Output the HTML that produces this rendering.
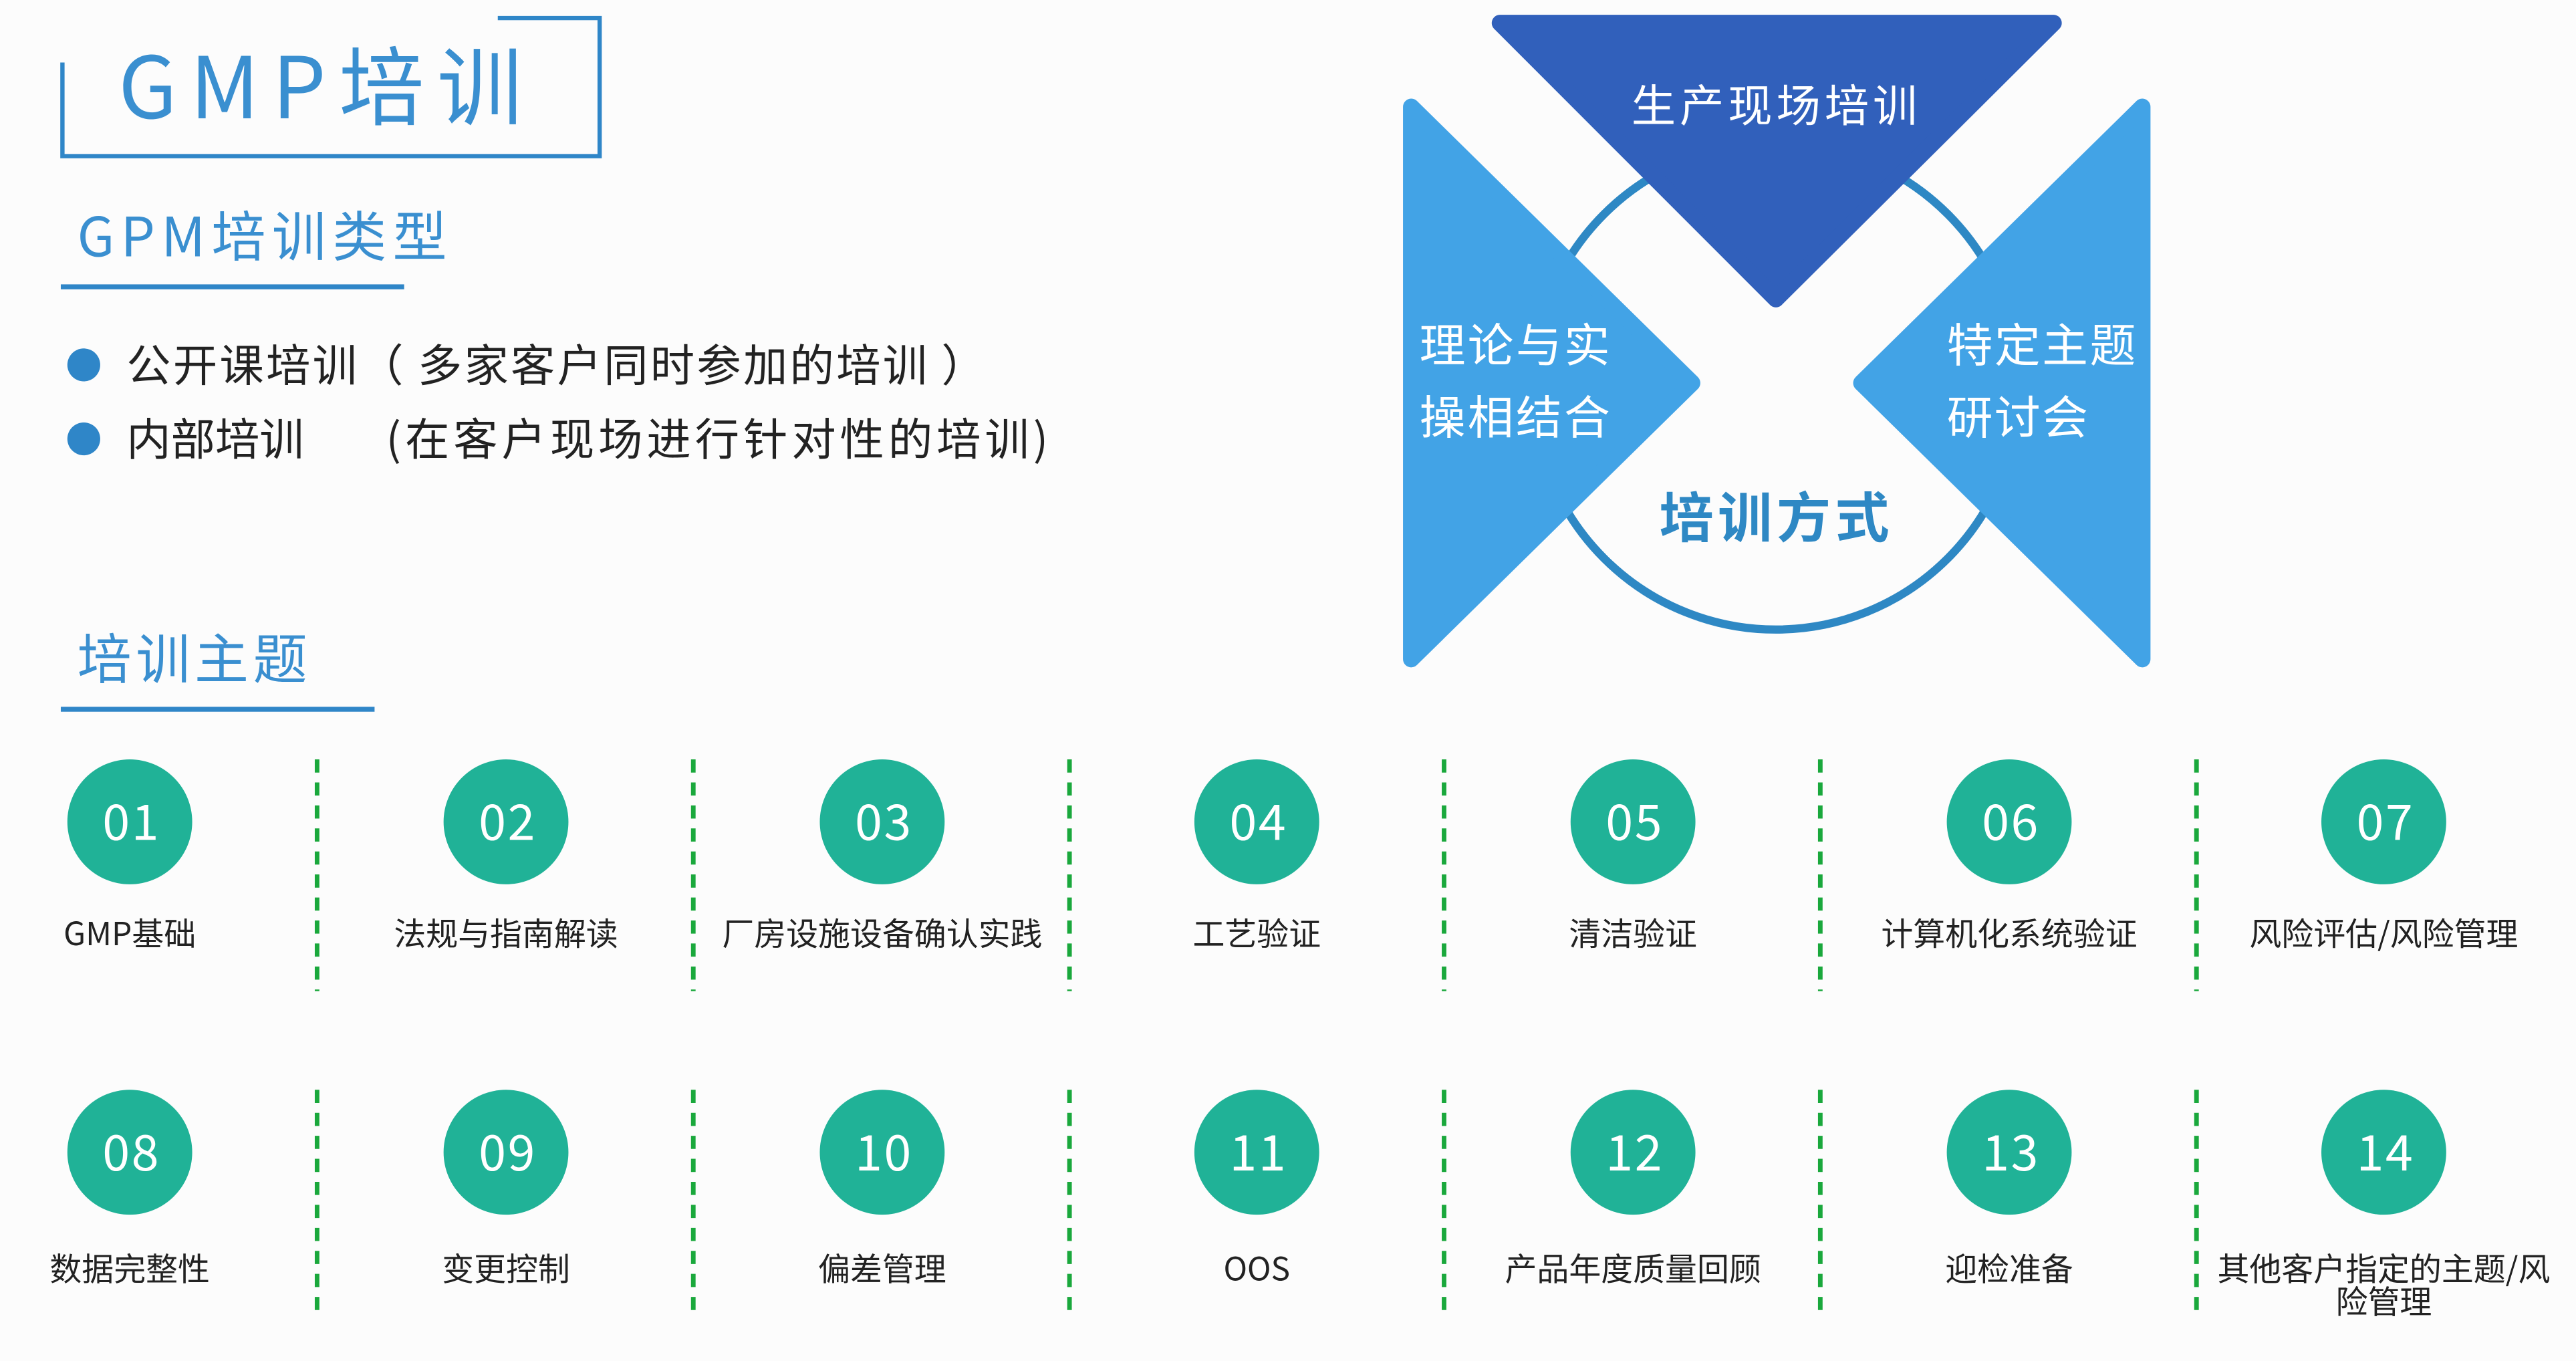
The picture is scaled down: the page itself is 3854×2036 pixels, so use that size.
<!DOCTYPE html>
<html><head><meta charset="utf-8"><style>
html,body{margin:0;padding:0;background:#fcfcfc;}
svg{display:block;}
text{font-family:"Liberation Sans","Noto Sans CJK SC",sans-serif;}
.cj{font-family:"Noto Sans CJK SC","WenQuanYi Zen Hei",sans-serif;}
</style></head><body>
<svg width="3854" height="2036" viewBox="0 0 1568 828" preserveAspectRatio="none" xmlns="http://www.w3.org/2000/svg">
<rect width="1568" height="828" fill="#fcfcfc"/>
<path d="M38 38 V95 H365 V11 H303" fill="none" stroke="#2f86c8" stroke-width="2.6"/>
<text x="72" y="72" font-size="52" fill="#3a8fd0" textLength="246" lengthAdjust="spacing" class="cj">GMP培训</text>
<text x="47" y="156" font-size="33" fill="#3a8fd0" textLength="225" lengthAdjust="spacing" class="cj">GPM培训类型</text>
<rect x="37" y="173" width="209" height="3" fill="#2f86c8"/>
<circle cx="51" cy="222" r="10" fill="#2f86c8"/>
<circle cx="51" cy="267" r="10" fill="#2f86c8"/>
<text x="77" y="232" font-size="27" fill="#222" textLength="523" lengthAdjust="spacing" class="cj">公开课培训（ 多家客户同时参加的培训 ）</text>
<text x="77" y="277" font-size="27" fill="#222" class="cj">内部培训</text>
<text x="235" y="277" font-size="27" fill="#222" textLength="403" lengthAdjust="spacing" class="cj">(在客户现场进行针对性的培训)</text>
<text x="47" y="413" font-size="33" fill="#3a8fd0" textLength="140" lengthAdjust="spacing" class="cj">培训主题</text>
<rect x="37" y="430" width="191" height="3" fill="#2f86c8"/>

<circle cx="1081" cy="235" r="148" fill="none" stroke="#2e88c4" stroke-width="5"/>
<polygon points="913,14 1250,14 1081,182" fill="#3160bb" stroke="#3160bb" stroke-width="10" stroke-linejoin="round"/>
<polygon points="859,65 859,401 1030,233" fill="#42a3e6" stroke="#42a3e6" stroke-width="10" stroke-linejoin="round"/>
<polygon points="1304,65 1304,401 1133,233" fill="#42a3e6" stroke="#42a3e6" stroke-width="10" stroke-linejoin="round"/>
<text x="993" y="74" font-size="27" fill="#fff" textLength="174" lengthAdjust="spacing" class="cj">生产现场培训</text>
<text x="864" y="220" font-size="28" fill="#fff" textLength="116" lengthAdjust="spacing" class="cj">理论与实</text>
<text x="864" y="264" font-size="28" fill="#fff" textLength="116" lengthAdjust="spacing" class="cj">操相结合</text>
<text x="1185" y="220" font-size="28" fill="#fff" textLength="115" lengthAdjust="spacing" class="cj">特定主题</text>
<text x="1185" y="264" font-size="28" fill="#fff" textLength="86" lengthAdjust="spacing" class="cj">研讨会</text>
<text x="1010" y="327" font-size="33" fill="#2e88c4" font-weight="bold" textLength="140" lengthAdjust="spacing" class="cj">培训方式</text>

<g stroke="#1aa83c" stroke-width="2.8" stroke-dasharray="8,6">
<line x1="193" y1="462" x2="193" y2="603"/><line x1="422" y1="462" x2="422" y2="603"/><line x1="651" y1="462" x2="651" y2="603"/><line x1="879" y1="462" x2="879" y2="603"/><line x1="1108" y1="462" x2="1108" y2="603"/><line x1="1337" y1="462" x2="1337" y2="603"/>
<line x1="193" y1="663" x2="193" y2="803"/><line x1="422" y1="663" x2="422" y2="803"/><line x1="651" y1="663" x2="651" y2="803"/><line x1="879" y1="663" x2="879" y2="803"/><line x1="1108" y1="663" x2="1108" y2="803"/><line x1="1337" y1="663" x2="1337" y2="803"/>
</g>

<g fill="#20b297">
<circle cx="79" cy="500" r="38"/><circle cx="308" cy="500" r="38"/><circle cx="537" cy="500" r="38"/><circle cx="765" cy="500" r="38"/><circle cx="994" cy="500" r="38"/><circle cx="1223" cy="500" r="38"/><circle cx="1451" cy="500" r="38"/>
<circle cx="79" cy="701" r="38"/><circle cx="308" cy="701" r="38"/><circle cx="537" cy="701" r="38"/><circle cx="765" cy="701" r="38"/><circle cx="994" cy="701" r="38"/><circle cx="1223" cy="701" r="38"/><circle cx="1451" cy="701" r="38"/>
</g>
<g fill="#fff" font-size="30" text-anchor="middle" letter-spacing="1">
<text x="80" y="511" class="cj">01</text><text x="309" y="511" class="cj">02</text><text x="538" y="511" class="cj">03</text><text x="766" y="511" class="cj">04</text><text x="995" y="511" class="cj">05</text><text x="1224" y="511" class="cj">06</text><text x="1452" y="511" class="cj">07</text>
<text x="80" y="712" class="cj">08</text><text x="309" y="712" class="cj">09</text><text x="538" y="712" class="cj">10</text><text x="766" y="712" class="cj">11</text><text x="995" y="712" class="cj">12</text><text x="1224" y="712" class="cj">13</text><text x="1452" y="712" class="cj">14</text>
</g>
<g fill="#222" font-size="19.5" text-anchor="middle">
<text x="79" y="575" class="cj">GMP基础</text><text x="308" y="575" class="cj">法规与指南解读</text><text x="537" y="575" class="cj">厂房设施设备确认实践</text><text x="765" y="575" class="cj">工艺验证</text><text x="994" y="575" class="cj">清洁验证</text><text x="1223" y="575" class="cj">计算机化系统验证</text><text x="1451" y="575" class="cj">风险评估/风险管理</text>
<text x="79" y="779" class="cj">数据完整性</text><text x="308" y="779" class="cj">变更控制</text><text x="537" y="779" class="cj">偏差管理</text><text x="765" y="779" class="cj">OOS</text><text x="994" y="779" class="cj">产品年度质量回顾</text><text x="1223" y="779" class="cj">迎检准备</text><text x="1451" y="779" class="cj">其他客户指定的主题/风</text><text x="1451" y="799" class="cj">险管理</text>
</g>
</svg>
</body></html>
